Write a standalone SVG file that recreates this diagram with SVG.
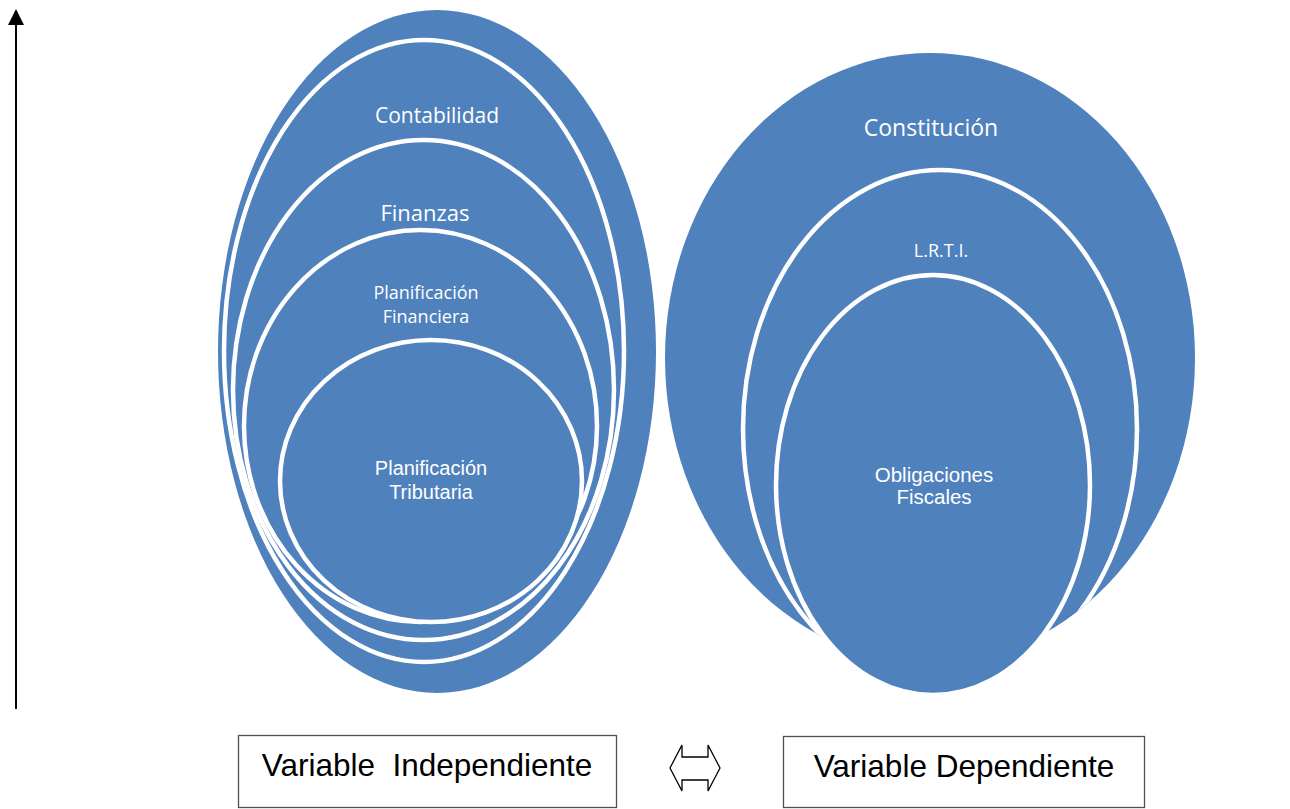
<svg xmlns="http://www.w3.org/2000/svg" width="1290" height="809" viewBox="0 0 1290 809">
  <style>
    .bub { fill: #4F81BD; }
    .ring { fill: #4F81BD; stroke: #FFFFFF; stroke-width: 4.5; }
    .cal { font-family: "Open Sans", "Noto Sans", sans-serif; fill: #FFFFFF; text-anchor: middle; }
    .ari { font-family: "Liberation Sans", Arial, sans-serif; fill: #FFFFFF; text-anchor: middle; }
    .box { fill: #FFFFFF; stroke: #505050; stroke-width: 1.3; }
    .lbl { font-family: "Liberation Sans", Arial, sans-serif; fill: #000000; text-anchor: middle; font-size: 31.5px; }
  </style>
  <defs>
    <marker id="arrowHead" markerWidth="16" markerHeight="16" refX="1" refY="8" orient="auto" markerUnits="userSpaceOnUse" viewBox="0 0 16 16">
      <path d="M0,0 L16,8 L0,16 Z" fill="#000000"/>
    </marker>
    <clipPath id="clipConst">
      <ellipse cx="930" cy="358" rx="265" ry="305"/>
    </clipPath>
  </defs>
  <rect x="0" y="0" width="1290" height="809" fill="#FFFFFF"/>

  <g id="connectors">
    <line x1="16" y1="709" x2="16" y2="24" stroke="#000000" stroke-width="2" marker-end="url(#arrowHead)"/>
  </g>

  <!-- Left group -->
  <g id="contabilidad">
    <ellipse class="bub" cx="437" cy="351.5" rx="219" ry="341.5"/>
    <ellipse class="ring" cx="424" cy="351" rx="200" ry="311"/>
    <text class="cal" x="437" y="123" font-size="21">Contabilidad</text>
  </g>
  <g id="finanzas">
    <ellipse class="ring" cx="423.5" cy="390" rx="190.5" ry="250"/>
    <text class="cal" x="425" y="221" font-size="22">Finanzas</text>
  </g>
  <g id="planificacion-financiera">
    <ellipse class="ring" cx="420.5" cy="426" rx="176.5" ry="196"/>
    <text class="cal" x="426" y="299" font-size="18">Planificación</text>
    <text class="cal" x="426" y="323" font-size="18">Financiera</text>
  </g>
  <g id="planificacion-tributaria">
    <ellipse class="ring" cx="431" cy="481" rx="151" ry="141"/>
    <text class="ari" x="431" y="475" font-size="20">Planificación</text>
    <text class="ari" x="431" y="499" font-size="20">Tributaria</text>
  </g>

  <!-- Right group -->
  <g id="constitucion">
    <ellipse class="bub" cx="930" cy="358" rx="265" ry="305"/>
    <text class="cal" x="931" y="136" font-size="23">Constitución</text>
  </g>
  <g id="lrti">
    <ellipse class="ring" cx="940" cy="429" rx="197" ry="259" clip-path="url(#clipConst)"/>
    <text class="cal" x="941" y="257" font-size="18">L.R.T.I.</text>
  </g>
  <g id="obligaciones-fiscales">
    <ellipse class="ring" cx="933" cy="485" rx="157" ry="210"/>
    <text class="ari" x="934" y="482" font-size="20.5">Obligaciones</text>
    <text class="ari" x="934" y="504" font-size="20.5">Fiscales</text>
  </g>

  <!-- Bottom labels -->
  <g id="variable-independiente">
    <rect class="box" x="238.5" y="735.5" width="378" height="72"/>
    <text class="lbl" x="427" y="776" xml:space="preserve">Variable  Independiente</text>
  </g>
  <g id="double-arrow">
    <polygon points="670,768 682,745 682,757 708,757 708,745 720,768 708,791 708,780 682,780 682,791" fill="#FFFFFF" stroke="#000000" stroke-width="1.3" stroke-linejoin="miter"/>
  </g>
  <g id="variable-dependiente">
    <rect class="box" x="783.5" y="736.5" width="361" height="71"/>
    <text class="lbl" x="964" y="777">Variable Dependiente</text>
  </g>
</svg>
